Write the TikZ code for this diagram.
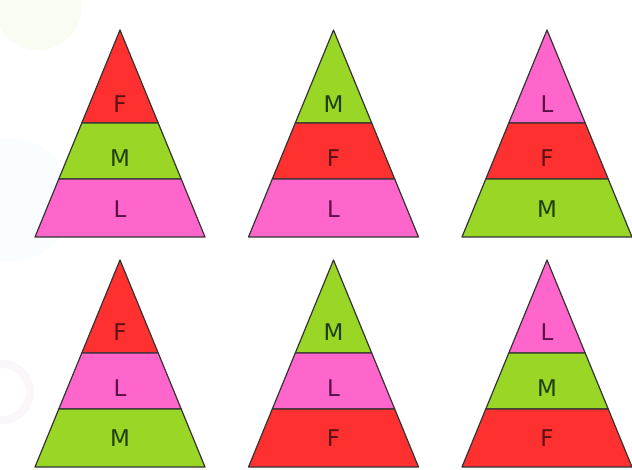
\documentclass[tikz,border=0pt]{standalone}
\usepackage{fontspec}
\newfontfamily\lettfont{DejaVu Sans}
\usepackage{tikz}
\usetikzlibrary{positioning}
\usepackage{xcolor}
\definecolor{colF}{HTML}{FF3030}
\definecolor{colM}{HTML}{99D626}
\definecolor{colL}{HTML}{FF66CC}
\definecolor{txtF}{HTML}{5C1212}
\definecolor{txtM}{HTML}{1F3F10}
\definecolor{txtL}{HTML}{5A1048}

\begin{document}
\begin{tikzpicture}[x=1pt, y=-1pt,
  band/.style={draw=black!80, line width=1.2pt, line join=round},
  letter/.style={font=\lettfont\fontsize{23}{23}\selectfont, inner sep=0pt},
]
  \useasboundingbox (0,0) rectangle (632,470);
  % faint background
  \fill[yellow!60!green, opacity=0.06] (38,6) circle (44);
  \fill[cyan!40, opacity=0.05] (10,200) circle (62);
  \draw[violet!50, opacity=0.07, line width=8pt] (2,392) circle (28);

  % top row
  \begin{scope}[shift={(120,30)}]
    \filldraw[band, fill=colF] (0,0) -- (38.2,93) -- (-38.2,93) -- cycle;
    \filldraw[band, fill=colM] (-38.2,93) -- (38.2,93) -- (61.2,149) -- (-61.2,149) -- cycle;
    \filldraw[band, fill=colL] (-61.2,149) -- (61.2,149) -- (85,207) -- (-85,207) -- cycle;
    \node[letter, text=txtF] (a1) at (0,74) {F};
    \node[letter, text=txtM] (a2) at (0,128) {M};
    \node[letter, text=txtL] (a3) at (0,179) {L};
  \end{scope}
  \begin{scope}[shift={(333.5,30)}]
    \filldraw[band, fill=colM] (0,0) -- (38.2,93) -- (-38.2,93) -- cycle;
    \filldraw[band, fill=colF] (-38.2,93) -- (38.2,93) -- (61.2,149) -- (-61.2,149) -- cycle;
    \filldraw[band, fill=colL] (-61.2,149) -- (61.2,149) -- (85,207) -- (-85,207) -- cycle;
    \node[letter, text=txtM] (b1) at (0,74) {M};
    \node[letter, text=txtF] (b2) at (0,128) {F};
    \node[letter, text=txtL] (b3) at (0,179) {L};
  \end{scope}
  \begin{scope}[shift={(547,30)}]
    \filldraw[band, fill=colL] (0,0) -- (38.2,93) -- (-38.2,93) -- cycle;
    \filldraw[band, fill=colF] (-38.2,93) -- (38.2,93) -- (61.2,149) -- (-61.2,149) -- cycle;
    \filldraw[band, fill=colM] (-61.2,149) -- (61.2,149) -- (85,207) -- (-85,207) -- cycle;
    \node[letter, text=txtL] (c1) at (0,74) {L};
    \node[letter, text=txtF] (c2) at (0,128) {F};
    \node[letter, text=txtM] (c3) at (0,179) {M};
  \end{scope}

  % bottom row
  \begin{scope}[shift={(120,260)}]
    \filldraw[band, fill=colF] (0,0) -- (38.2,93) -- (-38.2,93) -- cycle;
    \filldraw[band, fill=colL] (-38.2,93) -- (38.2,93) -- (61.2,149) -- (-61.2,149) -- cycle;
    \filldraw[band, fill=colM] (-61.2,149) -- (61.2,149) -- (85,207) -- (-85,207) -- cycle;
    \node[letter, text=txtF] (d1) at (0,72) {F};
    \node[letter, text=txtL] (d2) at (0,128) {L};
    \node[letter, text=txtM] (d3) at (0,178) {M};
  \end{scope}
  \begin{scope}[shift={(333.5,260)}]
    \filldraw[band, fill=colM] (0,0) -- (38.2,93) -- (-38.2,93) -- cycle;
    \filldraw[band, fill=colL] (-38.2,93) -- (38.2,93) -- (61.2,149) -- (-61.2,149) -- cycle;
    \filldraw[band, fill=colF] (-61.2,149) -- (61.2,149) -- (85,207) -- (-85,207) -- cycle;
    \node[letter, text=txtM] (e1) at (0,72) {M};
    \node[letter, text=txtL] (e2) at (0,128) {L};
    \node[letter, text=txtF] (e3) at (0,178) {F};
  \end{scope}
  \begin{scope}[shift={(547,260)}]
    \filldraw[band, fill=colL] (0,0) -- (38.2,93) -- (-38.2,93) -- cycle;
    \filldraw[band, fill=colM] (-38.2,93) -- (38.2,93) -- (61.2,149) -- (-61.2,149) -- cycle;
    \filldraw[band, fill=colF] (-61.2,149) -- (61.2,149) -- (85,207) -- (-85,207) -- cycle;
    \node[letter, text=txtL] (f1) at (0,72) {L};
    \node[letter, text=txtM] (f2) at (0,128) {M};
    \node[letter, text=txtF] (f3) at (0,178) {F};
  \end{scope}
\end{tikzpicture}
\end{document}
